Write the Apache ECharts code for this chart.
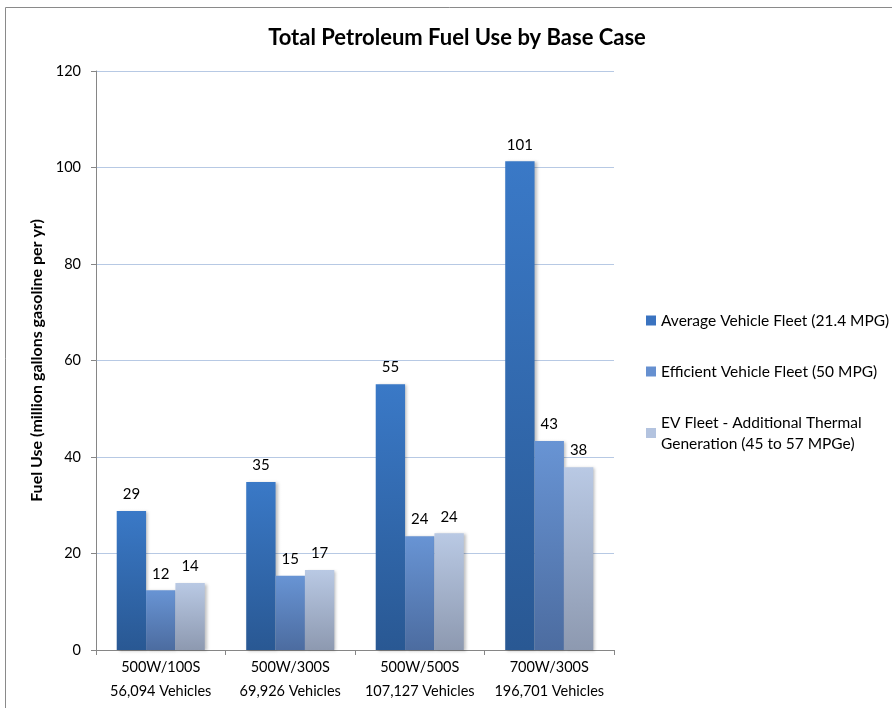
<!DOCTYPE html>
<html><head><meta charset="utf-8">
<script src="https://cdn.jsdelivr.net/npm/echarts@6/dist/echarts.min.js"></script>
<style>html,body{margin:0;padding:0;background:#fff}#c{width:892px;height:708px}</style>
</head><body><div id="c"></div>
<script>
const categories = ['500W/100S\n56,094 Vehicles', '500W/300S\n69,926 Vehicles', '500W/500S\n107,127 Vehicles', '700W/300S\n196,701 Vehicles'];
const seriesNames = ['Average Vehicle Fleet (21.4 MPG)', 'Efficient Vehicle Fleet (50 MPG)', 'EV Fleet - Additional Thermal Generation (45 to 57 MPGe)'];
const averageFleet = [28.8, 34.8, 55.1, 101.3];
const efficientFleet = [12.4, 15.4, 23.6, 43.3];
const evFleet = [13.9, 16.6, 24.2, 37.9];
const yTicks = [0, 20, 40, 60, 80, 100, 120];

const font = 'Lato, "Open Sans", sans-serif';
function grad(top, bottom) {
  return new echarts.graphic.LinearGradient(0, 0, 0, 1, [{offset: 0, color: top}, {offset: 1, color: bottom}]);
}
const colors = [grad('#3a79c7', '#295893'), grad('#6894d4', '#4c6ca0'), grad('#b9c9e4', '#8d99b0')];
const legendColors = ['#3a73c0', '#6690d0', '#b3c3df'];
const values = [averageFleet, efficientFleet, evFleet];

const chart = echarts.init(document.getElementById('c'), null, {renderer: 'canvas'});
chart.setOption({
  animation: false,
  backgroundColor: '#fff',
  title: {
    text: 'Total Petroleum Fuel Use by Base Case',
    left: 452, top: 22, textAlign: 'center',
    textStyle: {fontFamily: font, fontSize: 22, fontWeight: 'bold', color: '#000'}
  },
  graphic: [{
    type: 'rect', shape: {x: 5.5, y: 7.5, width: 900, height: 720},
    style: {fill: 'none', stroke: '#8a8a8a', lineWidth: 1}, silent: true, z: -1
  }],
  legend: {
    orient: 'vertical', left: 641, top: 305,
    itemWidth: 10, itemHeight: 10, itemGap: 30,
    icon: 'rect',
    textStyle: {fontFamily: font, fontSize: 15.5, color: '#000', lineHeight: 21},
    formatter: function (n) {
      return n === seriesNames[2] ? 'EV Fleet - Additional Thermal\nGeneration (45 to 57 MPGe)' : n;
    },
    data: seriesNames.map((n, i) => ({name: n, itemStyle: {color: legendColors[i]}}))
  },
  grid: {left: 96, right: 278, top: 71, bottom: 58, containLabel: false},
  xAxis: {
    type: 'category', data: categories,
    axisLine: {lineStyle: {color: '#868686'}},
    axisTick: {show: true, alignWithLabel: false, length: 5, lineStyle: {color: '#868686'}},
    axisLabel: {fontFamily: font, fontSize: 14.5, color: '#000', lineHeight: 24, margin: 5, interval: 0}
  },
  yAxis: {
    type: 'value', min: 0, max: 120, interval: 20,
    name: 'Fuel Use (million gallons gasoline per yr)',
    nameLocation: 'middle', nameGap: 48, nameRotate: 90,
    nameTextStyle: {fontFamily: font, fontSize: 16, fontWeight: 'bold', color: '#000'},
    axisLine: {show: true, lineStyle: {color: '#868686'}},
    axisTick: {show: true, length: 5, lineStyle: {color: '#868686'}},
    axisLabel: {fontFamily: font, fontSize: 14.5, color: '#000', margin: 15,
      formatter: v => yTicks.includes(v) ? String(v) : ''},
    splitLine: {lineStyle: {color: '#b7c9e4', width: 1}}
  },
  series: values.map((d, i) => ({
    name: seriesNames[i], type: 'bar', data: d,
    barGap: '0%', barCategoryGap: '32%',
    itemStyle: {color: colors[i], shadowColor: 'rgba(0,0,0,0.25)', shadowBlur: 3, shadowOffsetX: 2, shadowOffsetY: 1},
    label: {show: true, position: 'top', distance: 9, fontFamily: font, fontSize: 15, color: '#000',
      formatter: p => Math.round(p.value)}
  }))
});
</script></body></html>
